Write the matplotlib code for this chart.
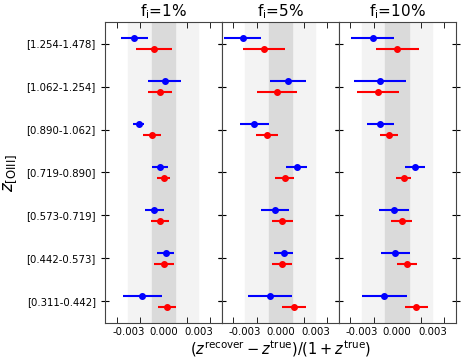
import numpy as np
import matplotlib.pyplot as plt

# redshift bins (bottom -> top)
bins = ['[0.311-0.442]', '[0.442-0.573]', '[0.573-0.719]', '[0.719-0.890]',
        '[0.890-1.062]', '[1.062-1.254]', '[1.254-1.478]']
titles = [r'f$_\mathrm{i}$=1%', r'f$_\mathrm{i}$=5%', r'f$_\mathrm{i}$=10%']

# values in units of 1e-3, ordered bottom -> top
blue_1 = [-1.80, 0.21, -0.77, -0.29, -2.11, 0.13, -2.47]
blue_1_err = [1.68, 0.74, 0.84, 0.66, 0.46, 1.42, 1.13]
red_1 = [0.32, 0.07, -0.29, 0.02, -0.94, -0.29, -0.80]
red_1_err = [0.75, 0.87, 0.75, 0.53, 0.77, 1.05, 1.50]

blue_5 = [-0.90, 0.28, -0.45, 1.40, -2.21, 0.67, -3.22]
blue_5_err = [1.88, 0.83, 1.16, 0.88, 1.25, 1.54, 1.60]
red_5 = [1.20, 0.17, 0.17, 0.39, -1.15, -0.28, -1.40]
red_5_err = [1.04, 0.84, 0.90, 0.80, 0.95, 1.70, 1.80]

blue_10 = [-1.09, -0.17, -0.26, 1.50, -1.43, -1.50, -2.11]
blue_10_err = [1.92, 1.25, 1.27, 0.84, 1.16, 2.23, 1.85]
red_10 = [1.65, 0.86, 0.39, 0.58, -0.73, -1.63, 0.00]
red_10_err = [0.95, 0.85, 0.88, 0.64, 0.76, 1.80, 1.84]

blues = [(blue_1, blue_1_err), (blue_5, blue_5_err), (blue_10, blue_10_err)]
reds = [(red_1, red_1_err), (red_5, red_5_err), (red_10, red_10_err)]

fig = plt.figure(figsize=(4.64, 3.62), dpi=100)
y = np.arange(len(bins))
dy = 0.12
w = 0.252
for i in range(3):
    ax = fig.add_axes([0.226 + i * w, 0.108, w, 0.831])
    ax.axvspan(-0.003, 0.003, color='#f3f3f3', zorder=0)
    ax.axvspan(-0.001, 0.001, color='#dadada', zorder=0)
    bv, be = blues[i]
    rv, re = reds[i]
    ax.errorbar(np.array(bv) * 1e-3, y + dy, xerr=np.array(be) * 1e-3, fmt='o',
                color='blue', ms=4, elinewidth=1.5, capsize=0)
    ax.errorbar(np.array(rv) * 1e-3, y - dy, xerr=np.array(re) * 1e-3, fmt='o',
                color='red', ms=4, elinewidth=1.5, capsize=0)
    ax.set_xlim(-0.005, 0.005)
    ax.set_ylim(-0.5, 6.5)
    ax.set_xticks([-0.003, 0, 0.003])
    ax.set_xticklabels(['-0.003', '0.000', '0.003'])
    ax.set_xticks([-0.004, -0.002, 0, 0.002, 0.004], minor=True)
    ax.tick_params(axis='x', which='major', length=0, labelsize=7.3, pad=3)
    ax.tick_params(axis='x', which='minor', direction='in', length=4,
                   top=True, bottom=True)
    ax.set_yticks(y)
    ax.tick_params(axis='y', direction='inout', length=6, left=True, right=True,
                   labelsize=7.3)
    if i == 0:
        ax.set_yticklabels(bins)
        ax.set_ylabel(r'$z_{\rm [OIII]}$', fontsize=12, labelpad=6)
    else:
        ax.set_yticklabels([])
    if i == 1:
        ax.set_xlabel(r'$(z^{\rm recover}-z^{\rm true})/(1+z^{\rm true})$',
                      fontsize=10.5, labelpad=1)
    ax.set_title(titles[i], fontsize=11, pad=4)
    for s in ax.spines.values():
        s.set_color('#444444')

fig.savefig('out.png', dpi=100)
